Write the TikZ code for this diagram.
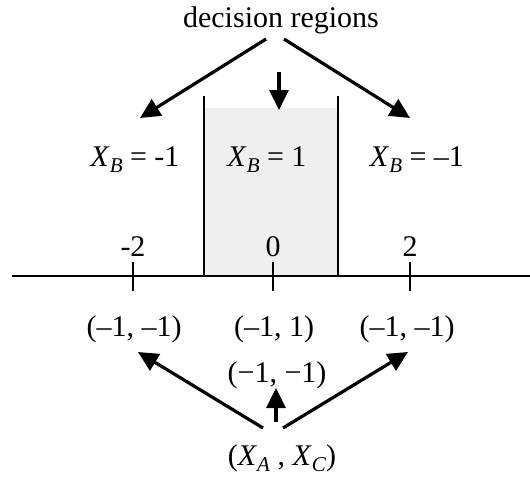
\documentclass[tikz,border=0pt]{standalone}
\usepackage{fontspec}
\setmainfont{Liberation Serif}
\usetikzlibrary{arrows.meta,calc}
\definecolor{region-gray}{HTML}{EFEFEF}
\newcommand{\varX}[1]{\textit{X}\raisebox{-0.45ex}{\fontsize{10.5}{12}\selectfont\textit{#1}}}

\begin{document}
\begin{tikzpicture}[x=0.5pt,y=-0.5pt,
    lbl/.style={font=\fontsize{15}{18}\selectfont,inner sep=1pt},
    bigarrow/.style={-{Triangle[length=10pt,width=9.5pt]},line width=1.6pt}]
  \useasboundingbox (0,0) rectangle (530,477);
  % shaded decision region
  \fill[region-gray] (204,108) rectangle (338,276);
  \draw[line width=0.6pt] (204,96)--(204,276); \draw[line width=0.6pt] (338,96)--(338,276);
  % axis with ticks
  \draw[line width=0.6pt] (12,276)--(530,276);
  \foreach \x/\t/\n in {133/-2/tm,273/0/tz,410/2/tp}{
    \draw[line width=0.6pt] (\x,262)--(\x,291);
    \node[lbl] (\n) at (\x,247){\t};
  }
  % region labels
  \node[lbl] (dec) at (281,20){decision regions};
  \node[lbl] (xbl) at (135,160){\varX{B} = -1};
  \node[lbl] (xbm) at (267,160){\varX{B} = 1};
  \node[lbl] (xbr) at (417,160){\varX{B} = –1};
  \coordinate (endl) at (140,118); \coordinate (endr) at (410,118);
  \coordinate (midtop) at (279,72); \coordinate (endm) at (279,110);
  \draw[bigarrow] ($(dec.south)+(-15,3)$)--(endl);
  \draw[bigarrow] ($(dec.south)+(3,3)$)--(endr);
  \draw[bigarrow] (midtop)--(endm);
  % input pairs
  \node[lbl] (pl) at (134,329){(–1, –1)};
  \node[lbl] (pm) at (274,329){(–1, 1)};
  \node[lbl] (pr) at (407,329){(–1, –1)};
  \node[lbl] (pmm) at (277,375){(−1, −1)};
  \node[lbl] (xac) at (282,458){(\varX{A} , \varX{C})};
  \coordinate (endpl) at (138,352); \coordinate (endpr) at (408,352);
  \draw[bigarrow] ($(xac.north)+(-19,-14)$)--(endpl);
  \draw[bigarrow] ($(xac.north)+(1,-14)$)--(endpr);
  \draw[bigarrow] ($(xac.north)+(-6,-20)$)--($(pmm.south)+(-1,-3)$);
\end{tikzpicture}
\end{document}
